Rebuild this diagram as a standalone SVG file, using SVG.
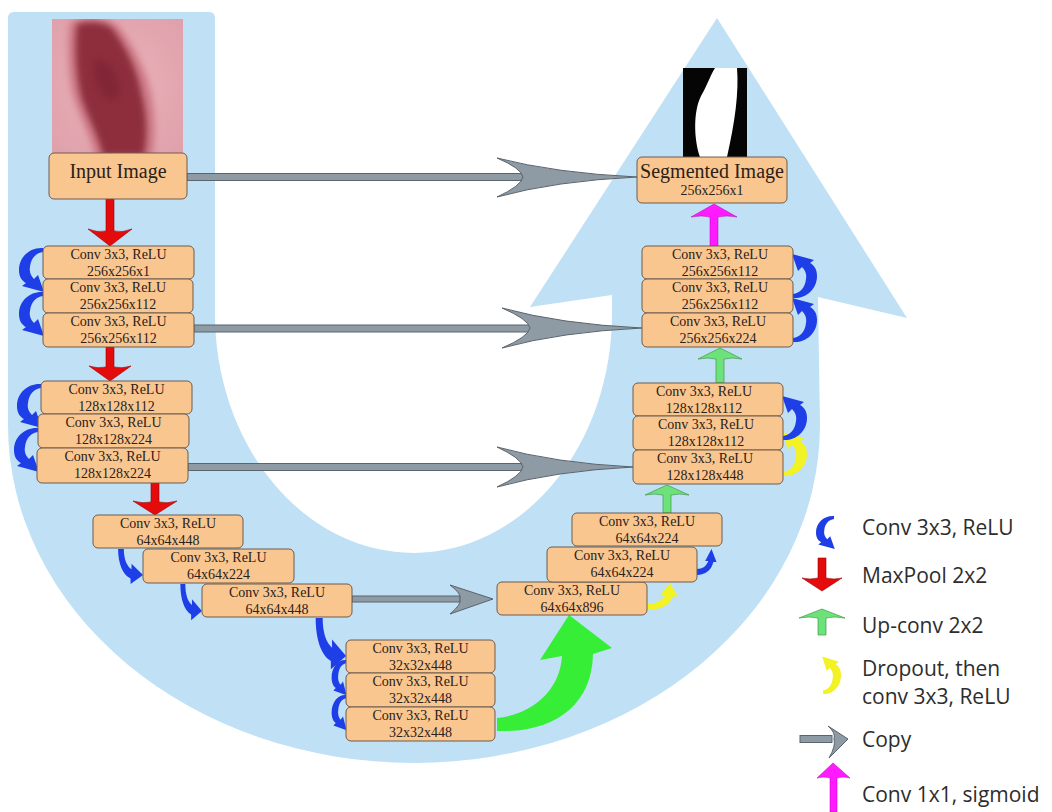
<svg xmlns="http://www.w3.org/2000/svg" width="1052" height="812" viewBox="0 0 1052 812">
<style>
.box{fill:#f9c690;stroke:#6e5c4c;stroke-width:1}
.t{font-family:"Liberation Serif","Times New Roman",serif;font-size:14px;fill:#2b2118;text-anchor:middle}
.tb{font-size:20px}
.leg{font-family:"Open Sans","Liberation Sans",sans-serif;font-size:21px;fill:#2d2d2d}
.blue{fill:#1e3ee8}
.yel{fill:#f2f224}
.red{fill:#e30b0b;stroke:#9c0000;stroke-width:.6}
.grn{fill:#6ee27a;stroke:#3f9a48;stroke-width:.7}
.mag{fill:#ff1aff;stroke:#b000b0;stroke-width:.5}
.gray{fill:#8e9aa4;stroke:#5a646c;stroke-width:1}
</style>
<defs>
<path id="arc" d="M0,0 C-12,-1 -24,8 -24,22 C-24,29 -21,33 -17,35 L-21,38 L1,44 L-5,27 L-9,31 C-12,28 -14,24 -13,19 C-12,10 -7,5 0,4 Z"/>
<path id="hook" d="M-2,0 L4,0 C4,9 7,15 12,18 L12,13 L24,23 L11,31 L11,26 C3,23 -2,13 -2,0 Z"/>
<radialGradient id="skin" cx="0.5" cy="0.5" r="0.7">
<stop offset="0" stop-color="#eab2ba"/><stop offset="1" stop-color="#dfa0aa"/>
</radialGradient>
<filter id="soft" x="-20%" y="-20%" width="140%" height="140%"><feGaussianBlur stdDeviation="3"/></filter>
<clipPath id="photo"><rect x="52" y="19" width="131" height="134"/></clipPath>
</defs>
<rect width="1052" height="812" fill="#ffffff"/>
<g id="band">
<path d="M8,18 Q8,12 14,12 L209,12 Q215,12 215,18 L215,314 A198.5,239 0 0 0 612,314 L612,295 L530,307 L717,18 L907,318 L818,297 L820,425 A406,338 0 0 1 8,425 Z" fill="#bfe0f5"/>
</g>
<g id="connectors">
<rect class="gray" x="187" y="173.5" width="338" height="7"/>
<path class="gray" d="M637,177 Q555,173 497,158 Q521,168 523,177 Q521,186 497,197 Q555,181 637,177 Z"/>
<rect class="gray" x="194" y="325" width="338" height="7"/>
<path class="gray" d="M642,328 Q560,324 502,308 Q528,319 530,328 Q528,337 502,348 Q560,332 642,328 Z"/>
<rect class="gray" x="188" y="463.5" width="337" height="7"/>
<path class="gray" d="M633,467 Q555,463 497,447 Q521,458 523,467 Q521,476 497,487 Q555,471 633,467 Z"/>
<rect class="gray" x="352" y="596" width="108" height="6"/>
<path class="gray" d="M493,599 L450,585 Q462,594 460,599 Q462,604 450,614 Z"/>
<path class="red" d="M106,199 L114,199 L114,231 Q122,233 132,229 L110,246 L88,229 Q98,233 106,231 Z"/>
<path class="red" d="M106,347 L114,347 L114,367 Q122,369 131,366 L110,381 L89,366 Q98,369 106,367 Z"/>
<path class="red" d="M151,483 L159,483 L159,502 Q167,504 177,501 L155,515 L133,501 Q143,504 151,502 Z"/>
<path class="grn" d="M663,513 L671,513 L671,495 Q679,493 689,495 L667,485 L645,495 Q655,493 663,495 Z"/>
<path class="grn" d="M716,383 L724,383 L724,359 Q732,357 742,359 L720,348 L698,359 Q708,357 716,359 Z"/>
<path class="mag" d="M710,246 L718,246 L718,217 Q726,215 737,217 L714,204 L691,217 Q702,215 710,217 Z"/>
<use href="#arc" class="blue" transform="translate(43,248)"/>
<use href="#arc" class="blue" transform="translate(43,292)"/>
<use href="#arc" class="blue" transform="translate(41,384)"/>
<use href="#arc" class="blue" transform="translate(38,428)"/>
<use href="#hook" class="blue" transform="translate(120,549) scale(0.96,1.13)"/>
<use href="#hook" class="blue" transform="translate(182,584) scale(0.83,1.17)"/>
<use href="#hook" class="blue" transform="translate(318,618) scale(1.17,1.65)"/>
<use href="#arc" class="blue" transform="translate(346,660) scale(0.6,0.8)"/>
<use href="#arc" class="blue" transform="translate(346,695) scale(0.6,0.8)"/>
<path d="M497,718 C530,715 560,692 562,656 L540,660 L569,615 L612,648 L593,654 C592,705 555,733 497,731 Z" fill="#36ee36"/>
<use href="#hook" class="yel" transform="translate(647,608) rotate(-90) scale(1.04,1)"/>
<use href="#hook" class="blue" transform="translate(697,573) rotate(-90) scale(1,0.63)"/>
<use href="#arc" class="yel" transform="translate(783,476) rotate(180)"/>
<use href="#arc" class="blue" transform="translate(783,440) rotate(180)"/>
<use href="#arc" class="blue" transform="translate(793,342) rotate(180)"/>
<use href="#arc" class="blue" transform="translate(793,298) rotate(180)"/>
</g>
<g id="input">
<rect x="52" y="19" width="131" height="134" fill="url(#skin)"/>
<g clip-path="url(#photo)">
<path d="M70,22 C90,14 112,18 120,28 C134,46 148,72 152,96 C156,118 156,138 152,160 L96,160 C90,136 80,118 74,100 C68,80 66,46 70,22 Z" fill="#c66a78" opacity="0.7" filter="url(#soft)"/>
<path d="M77,24 C90,20 105,22 112,28 C125,45 138,70 142,95 C147,115 148,135 144,156 L103,156 C98,135 88,118 82,100 C76,80 74,45 77,24 Z" fill="#8e2f3d" filter="url(#soft)"/>
<path d="M95,60 C105,55 118,70 120,88 C122,100 112,104 104,96 C96,86 90,66 95,60 Z" fill="#7a2231" opacity="0.6" filter="url(#soft)"/>
</g>
<rect class="box" x="49" y="153" width="138" height="46" rx="5"/>
<text class="t tb" x="118" y="178">Input Image</text>
</g>
<g id="l1a"><rect class="box" x="43" y="246" width="151" height="33" rx="5"/><text class="t" x="118.5" y="259">Conv 3x3, ReLU</text><text class="t" x="118.5" y="276">256x256x1</text></g>
<g id="l1b"><rect class="box" x="43" y="279" width="150" height="34" rx="5"/><text class="t" x="118" y="292">Conv 3x3, ReLU</text><text class="t" x="118" y="309">256x256x112</text></g>
<g id="l1c"><rect class="box" x="43" y="313" width="151" height="34" rx="5"/><text class="t" x="118.5" y="326">Conv 3x3, ReLU</text><text class="t" x="118.5" y="343">256x256x112</text></g>
<g id="l2a"><rect class="box" x="41" y="381" width="151" height="33" rx="5"/><text class="t" x="116.5" y="394">Conv 3x3, ReLU</text><text class="t" x="116.5" y="411">128x128x112</text></g>
<g id="l2b"><rect class="box" x="38" y="414" width="151" height="34" rx="5"/><text class="t" x="113.5" y="427">Conv 3x3, ReLU</text><text class="t" x="113.5" y="444">128x128x224</text></g>
<g id="l2c"><rect class="box" x="37" y="448" width="151" height="35" rx="5"/><text class="t" x="112.5" y="461">Conv 3x3, ReLU</text><text class="t" x="112.5" y="478">128x128x224</text></g>
<g id="l3a"><rect class="box" x="93" y="515" width="150" height="33" rx="5"/><text class="t" x="168" y="528">Conv 3x3, ReLU</text><text class="t" x="168" y="545">64x64x448</text></g>
<g id="l3b"><rect class="box" x="143" y="549" width="151" height="34" rx="5"/><text class="t" x="218.5" y="562">Conv 3x3, ReLU</text><text class="t" x="218.5" y="579">64x64x224</text></g>
<g id="l3c"><rect class="box" x="202" y="584" width="150" height="33" rx="5"/><text class="t" x="277" y="597">Conv 3x3, ReLU</text><text class="t" x="277" y="614">64x64x448</text></g>
<g id="b1"><rect class="box" x="346" y="640" width="149" height="33" rx="5"/><text class="t" x="420.5" y="653">Conv 3x3, ReLU</text><text class="t" x="420.5" y="670">32x32x448</text></g>
<g id="b2"><rect class="box" x="346" y="673" width="149" height="34" rx="5"/><text class="t" x="420.5" y="686">Conv 3x3, ReLU</text><text class="t" x="420.5" y="703">32x32x448</text></g>
<g id="b3"><rect class="box" x="346" y="707" width="149" height="34" rx="5"/><text class="t" x="420.5" y="720">Conv 3x3, ReLU</text><text class="t" x="420.5" y="737">32x32x448</text></g>
<g id="r3a"><rect class="box" x="497" y="582" width="150" height="33" rx="5"/><text class="t" x="572" y="595">Conv 3x3, ReLU</text><text class="t" x="572" y="612">64x64x896</text></g>
<g id="r3b"><rect class="box" x="547" y="547" width="150" height="35" rx="5"/><text class="t" x="622" y="560">Conv 3x3, ReLU</text><text class="t" x="622" y="577">64x64x224</text></g>
<g id="r3c"><rect class="box" x="572" y="513" width="150" height="33" rx="5"/><text class="t" x="647" y="526">Conv 3x3, ReLU</text><text class="t" x="647" y="543">64x64x224</text></g>
<g id="r2a"><rect class="box" x="633" y="383" width="150" height="33" rx="5"/><text class="t" x="704" y="396">Conv 3x3, ReLU</text><text class="t" x="704" y="413">128x128x112</text></g>
<g id="r2b"><rect class="box" x="633" y="416" width="150" height="34" rx="5"/><text class="t" x="706" y="429">Conv 3x3, ReLU</text><text class="t" x="706" y="446">128x128x112</text></g>
<g id="r2c"><rect class="box" x="633" y="450" width="150" height="34" rx="5"/><text class="t" x="705" y="463">Conv 3x3, ReLU</text><text class="t" x="705" y="480">128x128x448</text></g>
<g id="r1a"><rect class="box" x="642" y="246" width="151" height="33" rx="5"/><text class="t" x="720" y="259">Conv 3x3, ReLU</text><text class="t" x="720" y="276">256x256x112</text></g>
<g id="r1b"><rect class="box" x="642" y="279" width="151" height="34" rx="5"/><text class="t" x="720" y="292">Conv 3x3, ReLU</text><text class="t" x="720" y="309">256x256x112</text></g>
<g id="r1c"><rect class="box" x="642" y="313" width="151" height="34" rx="5"/><text class="t" x="718" y="326">Conv 3x3, ReLU</text><text class="t" x="718" y="343">256x256x224</text></g>
<g id="seg">
<rect x="683" y="68" width="64" height="89" fill="#050505"/>
<path d="M715,68 L737,68 C739,92 735,122 727,157 L700,157 C694,140 693,112 701,96 C707,86 710,76 715,68 Z" fill="#ffffff"/>
<rect class="box" x="637" y="157" width="150" height="46" rx="5"/>
<text class="t tb" x="712" y="178">Segmented Image</text>
<text class="t" x="712" y="195">256x256x1</text>
</g>
<g id="legend">
<use href="#arc" class="blue" transform="translate(834,516) scale(0.75)"/>
<text class="leg" x="862" y="535">Conv 3x3, ReLU</text>
<path class="red" d="M818,558 L826,558 L826,578 Q834,580 842,578 L822,591 L802,578 Q810,580 818,578 Z"/>
<text class="leg" x="862" y="583">MaxPool 2x2</text>
<path class="grn" d="M818,635 L826,635 L826,618 Q834,616 845,618 L822,609 L799,618 Q810,616 818,618 Z"/>
<text class="leg" x="862" y="633">Up-conv 2x2</text>
<use href="#arc" class="yel" transform="translate(823,694) rotate(180) scale(0.75,0.85)"/>
<text class="leg" x="862" y="676">Dropout, then</text>
<text class="leg" x="862" y="704">conv 3x3, ReLU</text>
<rect class="gray" x="800" y="735.5" width="32" height="7"/>
<path class="gray" d="M848,739 L828,726 Q836,733 834,739 Q836,746 829,758 Z"/>
<text class="leg" x="862" y="747">Copy</text>
<path class="mag" d="M830,812 L837,812 L837,778 Q843,776 850,778 L833,763 L817,778 Q824,776 830,778 Z"/>
<text class="leg" x="862" y="802">Conv 1x1, sigmoid</text>
</g>
</svg>
